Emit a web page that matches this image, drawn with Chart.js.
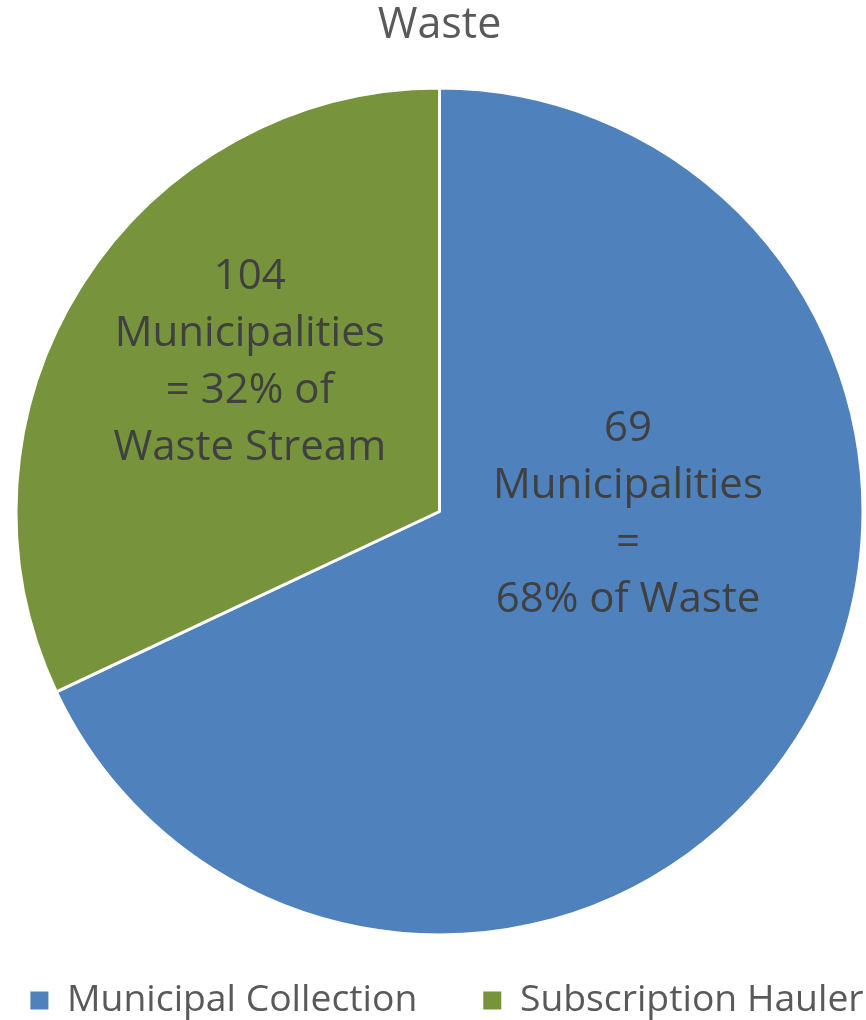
<!DOCTYPE html>
<html><head><meta charset="utf-8">
<script src="https://cdn.jsdelivr.net/npm/chart.js@4/dist/chart.umd.min.js"></script>
<style>
html,body{margin:0;padding:0;background:#fff;overflow:hidden}
#wrap{width:866px;height:1020px;overflow:hidden;position:relative}
#c{position:absolute;left:-60px;top:0}
</style>
</head><body><div id="wrap"><canvas id="c" width="999" height="1020"></canvas></div>
<script>
const categories = ["Municipal Collection", "Subscription Hauler"];
const shares = [68, 32];
const labelLines = [
  ["69", "Municipalities", "=", "68% of Waste"],
  ["104", "Municipalities", "= 32% of", "Waste Stream"]
];
const colors = ["#4F81BD", "#77933C"];
const FONT = "'Open Sans'";

const labelPlugin = {
  id: 'sliceLabels',
  afterDatasetsDraw(chart) {
    const ctx = chart.ctx;
    const meta = chart.getDatasetMeta(0);
    const placement = [[0.445, 0.008], [-0.448, -0.351]]; // label centre, as fraction of radius from pie centre
    ctx.save();
    ctx.fillStyle = "#404040";
    ctx.font = "42px " + FONT;
    ctx.textAlign = "center";
    ctx.textBaseline = "middle";
    meta.data.forEach((arc, i) => {
      const r = arc.outerRadius;
      const cx = arc.x + placement[i][0] * r;
      const cy = arc.y + placement[i][1] * r;
      const lines = labelLines[i];
      const lh = 57;
      const start = cy - (lines.length - 1) * lh / 2;
      lines.forEach((t, k) => ctx.fillText(t, cx, start + k * lh));
    });
    ctx.restore();
  }
};

const legendNudge = {
  id: 'legendNudge',
  afterLayout(chart) {
    const lg = chart.legend;
    lg.left += 7.5; lg.right += 7.5;
    lg.top -= 20.6; lg.bottom -= 20.6;
  }
};

new Chart(document.getElementById('c'), {
  type: 'pie',
  data: {
    labels: categories,
    datasets: [{ data: shares, backgroundColor: colors, borderColor: "#ffffff", borderWidth: 3 }]
  },
  options: {
    responsive: false,
    animation: false,
    layout: { padding: { left: 0, right: 0, top: 0, bottom: -29.8 } },
    plugins: {
      title: { display: true, text: "Waste", color: "#595959", font: { family: FONT, size: 43, weight: 'normal' }, padding: { top: 0, bottom: 34.9 } },
      legend: {
        position: 'bottom',
        labels: {
          color: "#595959", font: { family: FONT, size: 37.3 }, boxWidth: 18, boxHeight: 18, padding: 66,
          generateLabels(chart) {
            const items = Chart.overrides.pie.plugins.legend.labels.generateLabels(chart);
            items.forEach(it => { it.lineWidth = 0; it.strokeStyle = 'rgba(0,0,0,0)'; });
            return items;
          }
        }
      },
      tooltip: { enabled: false }
    }
  },
  plugins: [labelPlugin, legendNudge]
});
</script></body></html>
